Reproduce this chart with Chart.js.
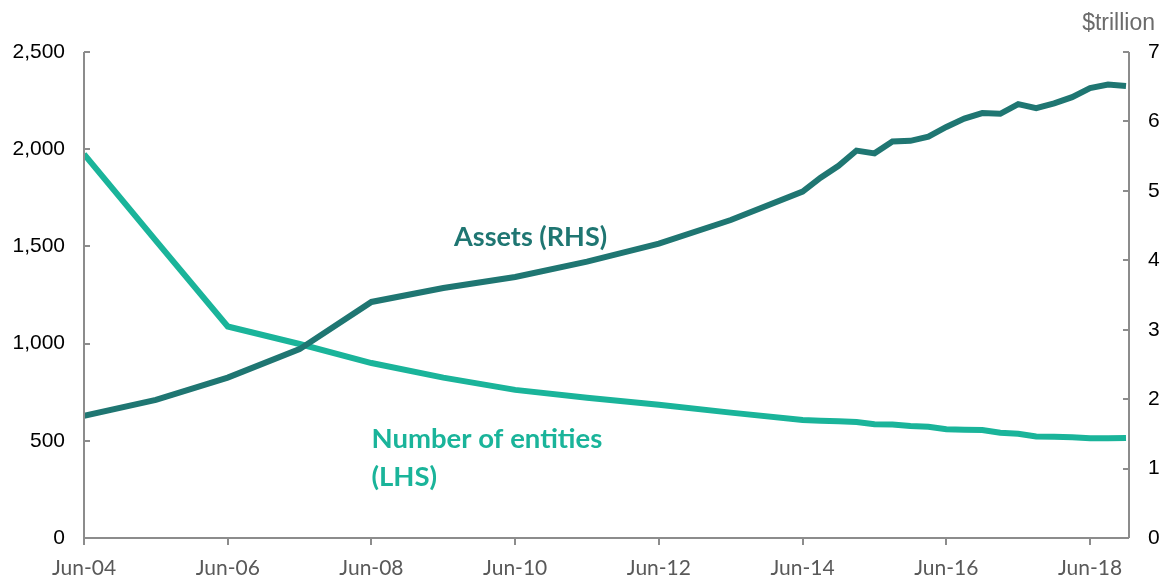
<!DOCTYPE html>
<html>
<head>
<meta charset="utf-8">
<script src="https://cdn.jsdelivr.net/npm/chart.js@4"></script>
<style>
  html, body { margin: 0; padding: 0; background: #fff; }
  #wrap { width: 1164px; height: 581px; }
</style>
</head>
<body>
<div id="wrap"><canvas id="chart" width="1164" height="581"></canvas></div>
<script>
// periods: annual to Jun-14, quarterly after that
const periods = [
  "Jun-04", "Jun-05", "Jun-06", "Jun-07", "Jun-08", "Jun-09", "Jun-10", "Jun-11",
  "Jun-12", "Jun-13", "Jun-14", "Sep-14", "Dec-14", "Mar-15", "Jun-15", "Sep-15",
  "Dec-15", "Mar-16", "Jun-16", "Sep-16", "Dec-16", "Mar-17", "Jun-17", "Sep-17",
  "Dec-17", "Mar-18", "Jun-18", "Sep-18", "Dec-18"
];
// $trillion (RHS)
const assets = [
  1.76, 1.99, 2.31, 2.72, 3.40, 3.60, 3.76, 3.98,
  4.24, 4.58, 4.99, 5.19, 5.36, 5.58, 5.54, 5.71,
  5.72, 5.78, 5.92, 6.04, 6.12, 6.11, 6.25, 6.19,
  6.26, 6.35, 6.48, 6.53, 6.51
];
// number of entities (LHS)
const entities = [
  1975, 1530, 1088, 998, 900, 825, 762, 722,
  686, 645, 607, 603, 600, 597, 585, 584,
  576, 572, 560, 557, 555, 541, 536, 522,
  521, 518, 513, 513, 515
];
const xTickLabels = ["Jun-04", "Jun-06", "Jun-08", "Jun-10", "Jun-12", "Jun-14", "Jun-16", "Jun-18"];
const leftTicks = [0, 500, 1000, 1500, 2000, 2500];
const rightTicks = [0, 1, 2, 3, 4, 5, 6, 7];

const DARK = "#1f7672";
const LIGHT = "#1ab49a";
const AXIS = "#8c8c8c";

// months since Jun-04
const months = { Mar: 3, Jun: 6, Sep: 9, Dec: 12 };
const toMonth = (p) => {
  const [m, y] = p.split("-");
  return (Number(y) - 4) * 12 + months[m] - 6;
};
const xs = periods.map(toMonth);

// axis lines + tick marks (y ticks inside, x ticks outside), plus text labels
const axisPlugin = {
  id: "axisLines",
  afterDraw(chart) {
    const { ctx, chartArea: a, scales } = chart;
    ctx.save();
    ctx.strokeStyle = AXIS;
    ctx.lineWidth = 2;
    ctx.beginPath();
    ctx.moveTo(a.left, a.top); ctx.lineTo(a.left, a.bottom);
    ctx.moveTo(a.right, a.top); ctx.lineTo(a.right, a.bottom);
    ctx.moveTo(a.left, a.bottom); ctx.lineTo(a.right, a.bottom);
    leftTicks.forEach((v) => {
      const y = Math.round(scales.y.getPixelForValue(v));
      ctx.moveTo(a.left, y); ctx.lineTo(a.left + 6, y);
    });
    rightTicks.forEach((v) => {
      const y = Math.round(scales.y1.getPixelForValue(v));
      ctx.moveTo(a.right, y); ctx.lineTo(a.right - 6, y);
    });
    xTickLabels.forEach((l) => {
      const x = Math.round(scales.x.getPixelForValue(toMonth(l)));
      ctx.moveTo(x, a.bottom); ctx.lineTo(x, a.bottom + 7);
    });
    ctx.stroke();

    // unit label over right axis
    ctx.fillStyle = "#6b6b6b";
    ctx.font = "23px 'Liberation Sans', Arial, sans-serif";
    ctx.textAlign = "right";
    ctx.textBaseline = "alphabetic";
    ctx.fillText("$trillion", 1155, 30);

    // series labels
    ctx.textAlign = "left";
    ctx.font = "bold 27px Lato, 'Open Sans', sans-serif";
    ctx.fillStyle = DARK;
    ctx.fillText("Assets (RHS)", scales.x.getPixelForValue(61.8), scales.y1.getPixelForValue(4.2));
    ctx.fillStyle = LIGHT;
    ctx.font = "bold 27.5px Lato, 'Open Sans', sans-serif";
    ctx.fillText("Number of entities", scales.x.getPixelForValue(48), scales.y.getPixelForValue(462));
    ctx.fillText("(LHS)", scales.x.getPixelForValue(48), scales.y.getPixelForValue(265));
    ctx.restore();
  }
};

new Chart(document.getElementById("chart"), {
  type: "line",
  data: {
    datasets: [
      {
        label: "Assets (RHS)",
        data: xs.map((x, i) => ({ x, y: assets[i] })),
        yAxisID: "y1",
        borderColor: DARK,
        borderWidth: 6,
        pointRadius: 0,
        tension: 0
      },
      {
        label: "Number of entities (LHS)",
        data: xs.map((x, i) => ({ x, y: entities[i] })),
        yAxisID: "y",
        borderColor: LIGHT,
        borderWidth: 6,
        pointRadius: 0,
        tension: 0
      }
    ]
  },
  options: {
    responsive: false,
    animation: false,
    layout: { padding: { top: 52, right: 0, bottom: 0, left: 0 } },
    plugins: { legend: { display: false }, tooltip: { enabled: false } },
    scales: {
      x: {
        type: "linear",
        min: 0,
        max: 174.5,
        afterBuildTicks: (s) => { s.ticks = xTickLabels.map((l) => ({ value: toMonth(l) })); },
        afterFit: (s) => { s.height = 43; },
        grid: { display: false, drawTicks: false },
        border: { display: false },
        ticks: {
          autoSkip: false,
          maxRotation: 0,
          padding: 18,
          color: "#595959",
          font: { family: "Lato, 'Open Sans', sans-serif", size: 21 },
          callback: (v) => xTickLabels.find((l) => toMonth(l) === v) || ""
        }
      },
      y: {
        position: "left",
        min: 0,
        max: 2500,
        afterBuildTicks: (s) => { s.ticks = leftTicks.map((v) => ({ value: v })); },
        afterFit: (s) => { s.width = 84; },
        grid: { display: false, drawTicks: false },
        border: { display: false },
        ticks: {
          padding: 19,
          color: "#000",
          font: { family: "'Liberation Sans', Arial, sans-serif", size: 21 },
          callback: (v) => v.toLocaleString("en-US")
        }
      },
      y1: {
        position: "right",
        min: 0,
        max: 7,
        afterBuildTicks: (s) => { s.ticks = rightTicks.map((v) => ({ value: v })); },
        afterFit: (s) => { s.width = 35; },
        grid: { display: false, drawTicks: false },
        border: { display: false },
        ticks: {
          padding: 19,
          color: "#000",
          font: { family: "'Liberation Sans', Arial, sans-serif", size: 21 }
        }
      }
    }
  },
  plugins: [axisPlugin]
});
</script>
</body>
</html>
